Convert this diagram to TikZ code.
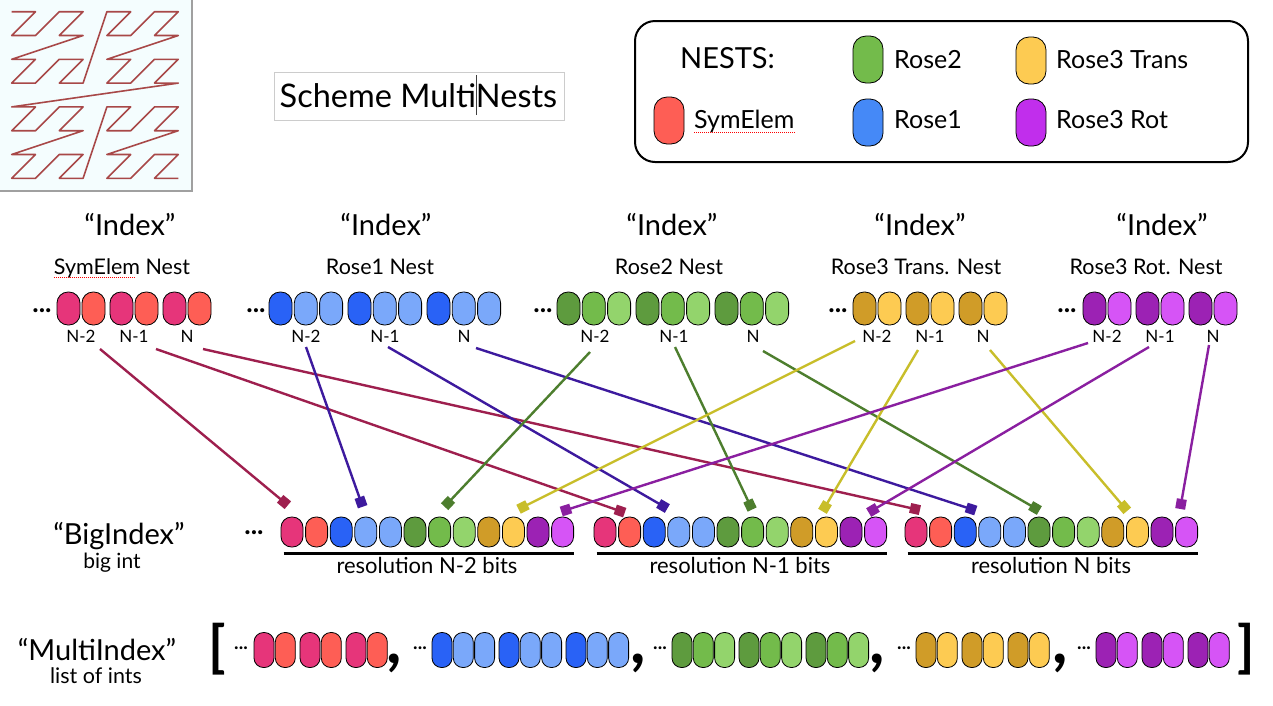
\documentclass[tikz,border=0pt]{standalone}
\usepackage{fontspec}
\setmainfont{Lato}
\usetikzlibrary{arrows.meta,calc}
\definecolor{cPink}{HTML}{E6357A}
\definecolor{cRed}{HTML}{FE5E55}
\definecolor{cBlueD}{HTML}{2962F6}
\definecolor{cBlueL}{HTML}{7AA8FA}
\definecolor{cGreenD}{HTML}{5E9B3E}
\definecolor{cGreenM}{HTML}{73BB4B}
\definecolor{cGreenL}{HTML}{93D46C}
\definecolor{cGold}{HTML}{D09C28}
\definecolor{cYellow}{HTML}{FDCB52}
\definecolor{cPurpD}{HTML}{9C22B4}
\definecolor{cMag}{HTML}{D654F6}
\definecolor{lBlue}{HTML}{4589F7}
\definecolor{lPurp}{HTML}{C12EEC}
\definecolor{kCrim}{HTML}{9E1F4E}
\definecolor{kInd}{HTML}{3D1A9E}
\definecolor{kGrn}{HTML}{4D7E2E}
\definecolor{kYel}{HTML}{C8BE2A}
\definecolor{kPur}{HTML}{8A1FA0}
\definecolor{zCol}{HTML}{A84848}
\definecolor{thumbBg}{HTML}{F4FDFE}
\definecolor{thumbEdge}{HTML}{A0A0A0}
\definecolor{boxGray}{HTML}{CCCCCC}
\newcommand\fsz[1]{\fontsize{#1}{#1}\selectfont}
\begin{document}
\begin{tikzpicture}[x=1pt,y=-1pt,
  cell/.style={draw=black, line width=0.8pt, rounded corners=11pt, minimum width=23pt, minimum height=33pt, inner sep=0pt},
  bcell/.style={cell, rounded corners=10.5pt, minimum width=22pt, minimum height=30pt},
  mcell/.style={cell, rounded corners=9.5pt, minimum width=20pt, minimum height=35pt},
  lpill/.style={cell, rounded corners=13pt, minimum width=30pt, minimum height=47pt},
  txt/.style={inner sep=0pt, text=black},
  big/.style={txt, anchor=base, font=\fsz{29}},
  sub/.style={txt, anchor=base, font=\fsz{21.5}},
  nlab/.style={txt, anchor=base, font=\fsz{17}},
  leg/.style={txt, anchor=base west, font=\fsz{25}},
  tdots/.style={txt, font=\fsz{27}\bfseries},
  bdots/.style={txt, font=\fsz{19}\bfseries},
  comma/.style={txt, font=\fsz{66}\bfseries},
  brack/.style={txt, font=\fsz{56}\bfseries},
  link/.style={line width=2.4pt, -{Square[length=10pt,width=10pt]}, shorten >=-5pt},
  spell/.style={draw=red, line width=1pt, dash pattern=on 1pt off 1pt},
  uline/.style={line width=2.5pt}]
\useasboundingbox (0,0) rectangle (1273,705);
\fill[white] (0,0) rectangle (1273,705);

% thumbnail with Z-order curve
\fill[thumbBg] (0,0) rectangle (192,191);
\draw[thumbEdge, line width=1.5pt] (192,0) -- (192,191) -- (0,191);
\foreach \k in {0,...,63}{
  \pgfmathsetmacro\zx{11.7+23.8*(mod(\k,2)+2*mod(floor(\k/4),2)+4*mod(floor(\k/16),2))}
  \pgfmathsetmacro\zy{11.7+23.8*(mod(floor(\k/2),2)+2*mod(floor(\k/8),2)+4*mod(floor(\k/32),2))}
  \coordinate (z\k) at (\zx,\zy);
}
\draw[zCol, line width=1.6pt, line join=round] (z0) \foreach \k in {1,...,63}{ -- (z\k) };

% title
\node[draw=boxGray, line width=1pt, minimum width=290pt, minimum height=48pt, inner sep=0pt] (titlebox) at (419,96) {};
\node[txt, anchor=base, font=\fsz{32.5}] (title) at (418.5,107) {Scheme Multi\makebox[0pt]{\textcolor{darkgray}{\rule[-8pt]{0.8pt}{40pt}}}Nests};

% legend
\node[draw=black, line width=2pt, rounded corners=20pt, minimum width=613pt, minimum height=141pt, inner sep=0pt] (legend) at (941.5,91.5) {};
\node[leg, font=\fsz{29}] (lnests) at (680,68) {NESTS:};
\node[lpill, fill=cGreenM] (pgreen) at (868,59.5) {};
\node[leg] (lrose2) at (894,68) {Rose2};
\node[lpill, fill=cYellow] (pyellow) at (1031,60.5) {};
\node[leg] (lrose3t) at (1056,68) {Rose3 Trans};
\node[lpill, fill=cRed] (pred) at (669,120.5) {};
\node[leg] (lsym) at (694,128) {SymElem};
\draw[spell] ([yshift=-4pt]lsym.base west) -- ([yshift=-4pt]lsym.base east);
\node[lpill, fill=lBlue] (pblue) at (868,122.5) {};
\node[leg] (lrose1) at (894,128) {Rose1};
\node[lpill, fill=lPurp] (ppurple) at (1031,122.5) {};
\node[leg] (lrose3r) at (1056,128) {Rose3 Rot};

% headings
\node[big] (h1) at (130,235) {“Index”};
\node[big] (h2) at (386,235) {“Index”};
\node[big] (h3) at (672,235) {“Index”};
\node[big] (h4) at (920,235) {“Index”};
\node[big] (h5) at (1162,235) {“Index”};
\node[sub] (sen) at (122,274) {SymElem Nest};
\draw[spell] ([yshift=-3pt]sen.base west) -- ([yshift=-3pt]$(sen.base west)!0.6!(sen.base east)$);
\node[sub] (r1n) at (380,274) {Rose1 Nest};
\node[sub] (r2n) at (669,274) {Rose2 Nest};
\node[sub] (r3tn) at (916,274) {Rose3 Trans. Nest};
\node[sub] (r3rn) at (1146,274) {Rose3 Rot. Nest};

% nest rows
\node[tdots] (d1) at (42,311) {...};
\foreach \p in {0,1,2} \foreach \i/\c in {0/cPink,1/cRed}
  \node[cell, fill=\c] (se-\p-\i) at ({57+53*\p+25*\i+11.5},308.5) {};
\node[tdots] (d2) at (256,311) {...};
\foreach \t in {0,1,2} \foreach \i/\c in {0/cBlueD,1/cBlueL,2/cBlueL}
  \node[cell, fill=\c] (ra-\t-\i) at ({269+79*\t+25.3*\i+11.5},308.5) {};
\node[tdots] (d3) at (543,311) {...};
\foreach \t in {0,1,2} \foreach \i/\c in {0/cGreenD,1/cGreenM,2/cGreenL}
  \node[cell, fill=\c] (rb-\t-\i) at ({557+79*\t+25.3*\i+11.5},308.5) {};
\node[tdots] (d4) at (838,311) {...};
\foreach \p in {0,1,2} \foreach \i/\c in {0/cGold,1/cYellow}
  \node[cell, fill=\c] (rt-\p-\i) at ({853+53*\p+25*\i+11.5},308.5) {};
\node[tdots] (d5) at (1067,311) {...};
\foreach \p in {0,1,2} \foreach \i/\c in {0/cPurpD,1/cMag}
  \node[cell, fill=\c] (rr-\p-\i) at ({1083+53*\p+25*\i+11.5},308.5) {};

% N labels
\foreach \nm/\xa/\xb/\xc in {se/81/134/187, ra/306/385/464, rb/595/674/753, rt/877/930/983, rr/1107/1160/1213}{
  \node[nlab] (\nm-n2) at (\xa,342) {N-2};
  \node[nlab] (\nm-n1) at (\xb,342) {N-1};
  \node[nlab] (\nm-n0) at (\xc,342) {N};
}

% BigIndex row
\node[big] (bigidx) at (119,544) {“BigIndex”};
\node[sub, font=\fsz{21}] (bigint) at (112,568) {big int};
\node[tdots] (d6) at (254,533) {...};
\foreach \g/\gx in {0/281,1/594,2/905}{
  \foreach \i/\c in {0/cPink,1/cRed,2/cBlueD,3/cBlueL,4/cBlueL,5/cGreenD,6/cGreenM,7/cGreenL,8/cGold,9/cYellow,10/cPurpD,11/cMag}
    \node[bcell, fill=\c] (b-\g-\i) at ({\gx+24.6*\i+11},532) {};
  \draw[uline] ([xshift=3pt,yshift=-6pt]b-\g-0.south west) -- ([yshift=-6pt]b-\g-11.south east);
}
\node[sub, font=\fsz{22}] (res0) at (427,573) {resolution N-2 bits};
\node[sub, font=\fsz{22}] (res1) at (740,573) {resolution N-1 bits};
\node[sub, font=\fsz{22}] (res2) at (1051,573) {resolution N bits};

% connectors
\coordinate (s1) at (100,349);  \coordinate (e1) at (284,502);
\coordinate (s2) at (156,349);  \coordinate (e2) at (620,511);
\coordinate (s3) at (203,349);  \coordinate (e3) at (915,509);
\coordinate (s4) at (306,347);  \coordinate (e4) at (361,502);
\coordinate (s5) at (388,347);  \coordinate (e5) at (663,506);
\coordinate (s6) at (476,348);  \coordinate (e6) at (971,509);
\coordinate (s7) at (590,352);  \coordinate (e7) at (448,503);
\coordinate (s8) at (675,347);  \coordinate (e8) at (750,505);
\coordinate (s9) at (763,351);  \coordinate (e9) at (1035,508);
\coordinate (s10) at (855,341); \coordinate (e10) at (523,507);
\coordinate (s11) at (918,350); \coordinate (e11) at (825,507);
\coordinate (s12) at (990,350); \coordinate (e12) at (1124,507);
\coordinate (s13) at (1088,343); \coordinate (e13) at (566,510);
\coordinate (s14) at (1149,347); \coordinate (e14) at (873,510);
\coordinate (s15) at (1209,345); \coordinate (e15) at (1181,504);
\foreach \n/\c in {1/kCrim,2/kCrim,3/kCrim,4/kInd,5/kInd,6/kInd,7/kGrn,8/kGrn,9/kGrn,10/kYel,11/kYel,12/kYel,13/kPur,14/kPur,15/kPur}
  \draw[link, draw=\c, fill=\c] (s\n) -- (e\n);

% MultiIndex row
\node[big] (multi) at (97,660) {“MultiIndex”};
\node[sub] (listints) at (96,683) {list of ints};
\node[brack] (lb) at (217,649) {[};
\node[bdots] (m1) at (241,648) {...};
\foreach \p in {0,1,2} \foreach \i/\c in {0/cPink,1/cRed}
  \node[mcell, fill=\c] (ms-\p-\i) at ({254+46*\p+21.3*\i+10},650) {};
\node[comma] (c1) at (394,663) {,};
\node[bdots] (m2) at (420,648) {...};
\foreach \t in {0,1,2} \foreach \i/\c in {0/cBlueD,1/cBlueL,2/cBlueL}
  \node[mcell, fill=\c] (mb-\t-\i) at ({432+67*\t+21.3*\i+10},650) {};
\node[comma] (c2) at (638,663) {,};
\node[bdots] (m3) at (660,648) {...};
\foreach \t in {0,1,2} \foreach \i/\c in {0/cGreenD,1/cGreenM,2/cGreenL}
  \node[mcell, fill=\c] (mg-\t-\i) at ({672+67*\t+21.3*\i+10},650) {};
\node[comma] (c3) at (877,663) {,};
\node[bdots] (m4) at (904,648) {...};
\foreach \p in {0,1,2} \foreach \i/\c in {0/cGold,1/cYellow}
  \node[mcell, fill=\c] (my-\p-\i) at ({916+46*\p+21.3*\i+10},650) {};
\node[comma] (c4) at (1060,663) {,};
\node[bdots] (m5) at (1084,648) {...};
\foreach \p in {0,1,2} \foreach \i/\c in {0/cPurpD,1/cMag}
  \node[mcell, fill=\c] (mp-\p-\i) at ({1096+46*\p+21.3*\i+10},650) {};
\node[brack] (rb) at (1246,649) {]};
\end{tikzpicture}
\end{document}
